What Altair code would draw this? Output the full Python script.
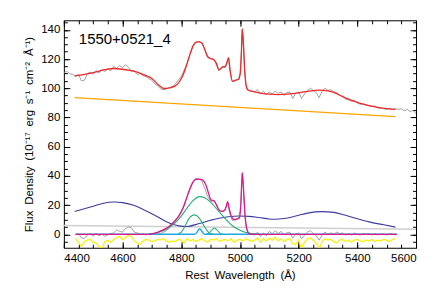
import altair as alt
import pandas as pd

# ---------------- data ----------------
# observed spectrum (upper, grey)
obs_wl = [4400, 4410, 4420, 4430, 4440, 4450, 4460, 4470, 4480, 4490, 4500, 4510, 4520, 4530,
          4540, 4550, 4560, 4570, 4580, 4590, 4600, 4610, 4620, 4630, 4640, 4650, 4660, 4670,
          4680, 4690, 4700, 4710, 4720, 4730, 4740, 4750, 4760, 4770, 4780, 4790, 4800, 4810,
          4820, 4830, 4840, 4850, 4860, 4870, 4880, 4890, 4900, 4910, 4920, 4929, 4940, 4950,
          4956, 4961, 4966, 4974, 4985, 4995, 5001, 5005, 5008, 5012, 5016, 5021, 5030, 5040,
          5050, 5060, 5070, 5080, 5090, 5100, 5110, 5120, 5130, 5140, 5150, 5160, 5170, 5180,
          5190, 5200, 5210, 5220, 5230, 5240, 5250, 5260, 5270, 5280, 5290, 5300, 5310, 5320,
          5330, 5340, 5350, 5360, 5370, 5380, 5390, 5400, 5410, 5420, 5430, 5440, 5450, 5460,
          5470, 5480, 5490, 5500, 5510, 5520, 5530, 5540, 5550, 5560, 5570, 5580, 5590, 5600]
obs_fl = [110.5, 111.5, 110.0, 109.5, 108.0, 109.5, 105.0, 105.5, 110.0, 111.0, 109.5, 112.0, 110.5, 112.5,
          111.5, 113.0, 112.0, 115.0, 113.5, 115.5, 114.0, 116.0, 114.5, 111.5, 112.0, 109.5, 110.0, 108.5,
          108.0, 106.5, 105.5, 103.0, 101.5, 99.5, 99.0, 99.5, 100.5, 101.0, 103.0, 105.5, 108.0, 112.5,
          117.0, 123.0, 128.5, 131.5, 132.0, 131.0, 126.5, 122.0, 120.5, 119.5, 117.5, 112.0, 114.5, 114.0,
          117.5, 120.5, 112.5, 104.5, 105.0, 106.5, 110.5, 125.0, 140.5, 129.0, 112.0, 101.5, 98.5, 98.0,
          97.5, 99.0, 96.0, 98.0, 95.5, 97.5, 96.0, 98.0, 96.5, 97.5, 95.0, 97.0, 97.5, 93.0,
          96.5, 97.5, 93.0, 96.0, 98.5, 100.0, 98.5, 97.0, 93.5, 98.0, 100.0, 98.5, 99.0, 97.5,
          97.0, 95.0, 94.5, 92.5, 92.0, 91.0, 91.5, 90.0, 89.0, 89.5, 88.5, 88.0, 87.5, 88.0,
          86.5, 86.5, 86.0, 85.5, 86.5, 85.5, 86.0, 85.5, 86.0, 84.5, 85.5, 84.0, 85.0, 82.5]

# total model (red)
red_wl = [4437, 4470, 4500, 4540, 4570, 4600, 4630, 4650, 4675, 4700, 4725, 4742, 4760, 4780,
          4800, 4810, 4820, 4830, 4840, 4850, 4862, 4872, 4880, 4890, 4900, 4910, 4918, 4929,
          4940, 4950, 4956, 4961, 4966, 4974, 4985, 4995, 5001, 5005, 5008, 5012, 5016, 5021,
          5027, 5040, 5070, 5100, 5130, 5160, 5200, 5240, 5270, 5300, 5330, 5350, 5380, 5400,
          5430, 5460, 5500, 5530]
red_fl = [108.5, 109.5, 110.7, 112.7, 113.5, 113.0, 112.0, 111.0, 109.0, 106.7, 101.8, 99.8, 100.3, 101.6,
          106.5, 111.0, 117.0, 123.5, 129.0, 131.5, 131.7, 130.5, 126.5, 121.5, 120.3, 119.8, 117.5, 112.5,
          114.5, 115.0, 118.0, 121.0, 113.0, 104.8, 105.5, 106.0, 110.0, 125.0, 140.8, 130.0, 113.0, 102.0,
          98.8, 98.0, 96.7, 95.9, 95.6, 95.9, 96.8, 98.2, 98.7, 98.2, 96.3, 94.2, 91.8, 90.3,
          88.6, 87.3, 86.1, 85.5]

# power-law continuum (orange)
pl_wl = [4437, 5530]
pl_fl = [93.5, 80.5]

# host / constant component (light grey)
host_wl = [4400, 5600]
host_fl = [6.0, 3.4]

# Fe II template (navy)
fe_wl = [4437, 4470, 4500, 4535, 4570, 4600, 4635, 4670, 4703, 4748, 4793, 4820, 4861, 4900,
         4929, 4960, 4997, 5030, 5065, 5100, 5120, 5150, 5190, 5230, 5280, 5320, 5360, 5394,
         5440, 5490, 5530]
fe_fl = [15.6, 17.5, 19.2, 21.3, 22.1, 21.7, 20.0, 17.0, 13.8, 8.8, 5.8, 5.4, 7.4, 9.6,
         11.0, 12.0, 12.5, 12.3, 11.5, 10.5, 10.3, 10.8, 12.5, 14.5, 15.5, 15.0, 13.0, 11.0,
         8.5, 6.5, 4.9]

# continuum-subtracted spectrum (lower, grey)
res_wl = [4440, 4450, 4460, 4470, 4480, 4490, 4500, 4510, 4520, 4530, 4540, 4550, 4560, 4570,
          4580, 4590, 4600, 4610, 4620, 4630, 4640, 4650, 4660, 4670, 4680, 4690, 4700, 4710,
          4720, 4730, 4740, 4750, 4760, 4770, 4780, 4790, 4800, 4810, 4820, 4830, 4840, 4850,
          4860, 4870, 4880, 4890, 4900, 4910, 4920, 4930, 4940, 4950, 4958, 4966, 4974, 4985,
          4995, 5001, 5005, 5008, 5012, 5016, 5021, 5030, 5040, 5050, 5060, 5070, 5080, 5090,
          5100, 5110, 5120, 5130, 5140, 5150, 5160, 5170, 5180, 5190, 5200, 5210, 5220, 5230,
          5240, 5250, 5260, 5270, 5280, 5290, 5300, 5310, 5320, 5330, 5340, 5350, 5360, 5370,
          5380, 5390, 5400, 5410, 5420, 5430, 5440, 5450, 5460, 5470, 5480, 5490, 5500, 5510,
          5520, 5530]
res_fl = [-0.3, 0.5, -2.5, -2.8, -0.5, 0.3, -1.2, 0.5, -1.0, 0.2, -1.5, -0.3, 0.5, 1.0,
          3.0, 2.0, 1.5, 4.0, 5.0, 4.5, 1.5, 1.0, 0.0, 0.5, -0.5, 0.3, -0.2, 0.5,
          1.0, 0.5, 1.5, 2.5, 4.5, 6.5, 9.0, 12.5, 16.0, 19.5, 25.5, 31.0, 36.0, 38.0,
          38.0, 36.5, 31.5, 26.0, 22.5, 23.0, 20.5, 16.0, 15.5, 17.0, 21.5, 14.0, 9.5, 10.0,
          11.0, 16.0, 30.0, 42.0, 31.0, 14.0, 5.0, 1.0, 0.5, -0.5, 1.5, -1.5, 1.0, -1.0,
          2.0, 0.5, 2.5, 0.5, 2.0, -0.5, 1.0, 1.5, -2.5, 0.0, 1.0, -3.0, -0.5, 1.5,
          2.5, 0.5, -1.0, -4.0, -0.5, 1.5, 0.0, 1.0, 0.0, 1.5, 0.5, 1.0, -0.5, 0.5,
          -0.5, 1.0, 0.0, -0.5, 0.5, 0.0, 0.5, -0.5, 0.5, -0.5, 0.5, 0.0, -0.5, 0.5,
          0.0, -0.5]

# broad H-beta (green)
hbb_wl = [4690, 4720, 4750, 4780, 4800, 4820, 4840, 4862, 4880, 4900, 4920, 4940, 4960, 4980,
          5000, 5020, 5050, 5070]
hbb_fl = [0.3, 1.2, 3.5, 8.0, 12.5, 18.0, 23.0, 25.8, 25.0, 22.0, 17.5, 13.0, 8.5, 5.0,
          2.8, 1.3, 0.3, 0.0]
# blue-shifted H-beta component (green)
hbw_wl = [4790, 4800, 4810, 4820, 4830, 4845, 4860, 4870, 4880, 4890, 4900, 4910]
hbw_fl = [0.3, 1.5, 4.5, 8.5, 11.8, 13.3, 11.5, 8.5, 5.0, 2.0, 0.5, 0.0]
# small green line
hbs_wl = [4885, 4895, 4905, 4913, 4921, 4931, 4941]
hbs_fl = [0.0, 1.0, 3.2, 4.2, 3.2, 1.0, 0.0]

# narrow H-beta (cyan)
hbn_wl = [4440, 4845, 4852, 4858, 4863, 4868, 4874, 4880, 5535]
hbn_fl = [0.0, 0.0, 1.0, 2.8, 3.6, 2.8, 1.0, 0.0, 0.0]

# total line model (magenta)
mag_wl = [4440, 4690, 4705, 4725, 4742, 4759, 4776, 4793, 4805, 4816, 4827, 4838, 4850, 4862,
          4872, 4884, 4893, 4901, 4912, 4920, 4929, 4940, 4948, 4953, 4958, 4963, 4969, 4975,
          4982, 4990, 4998, 5003, 5008, 5013, 5018, 5024, 5030, 5040, 5535]
mag_fl = [0.0, 0.0, 0.4, 1.9, 3.4, 5.5, 8.8, 12.8, 17.5, 23.6, 30.0, 35.0, 37.7, 37.8,
          37.3, 33.8, 28.0, 23.6, 22.9, 20.0, 16.7, 15.8, 16.5, 19.0, 22.4, 18.0, 13.3, 10.8,
          10.0, 10.5, 11.2, 20.0, 42.2, 28.0, 12.0, 3.0, 0.5, 0.0, 0.0]

# residual / error (yellow)
yel_wl = list(range(4440, 5540, 10))
yel_fl = [-3.0, -5.5, -8.5, -5.0, -4.0, -3.5, -5.5, -6.0, -8.5, -9.5, -5.0, -4.0, -5.5, -3.5,
          -2.0, -1.5, -3.5, -2.0, -0.8, -1.5, -4.5, -6.0, -7.0, -4.5, -3.5, -4.0, -5.0, -4.5,
          -3.5, -4.0, -3.0, -4.5, -5.5, -4.5, -5.0, -3.5, -4.0, -6.0, -3.0, -4.5, -3.5, -5.0,
          -4.0, -3.0, -4.5, -5.5, -3.5, -4.0, -3.0, -5.0, -4.0, -3.5, -4.5, -3.0, -5.5, -4.0,
          -3.5, -4.5, -3.0, -4.0, -5.0, -4.0, -2.5, -5.5, -3.0, -4.5, -2.5, -4.0, -2.0, -4.5,
          -3.0, -5.0, -3.5, -3.0, -6.5, -7.0, -4.0, -9.5, -5.5, -3.0, -2.5, -4.0, -6.0, -9.5,
          -5.0, -3.0, -4.0, -3.5, -5.0, -6.0, -4.0, -3.5, -5.0, -4.0, -5.5, -4.0, -3.5, -4.5,
          -5.0, -4.0, -4.5, -3.5, -5.0, -4.0, -4.5, -3.5, -4.0, -5.0, -3.5, -3.0]

label_text = "1550+0521_4"
x_title = "Rest\u2002Wavelength\u2002(Å)"
y_title = "Flux\u2002Density\u2002(10\u207b\u00b9\u2077\u2002erg\u2002s\u207b\u00b9\u2002cm\u207b\u00b2\u2002Å\u207b\u00b9)"
x_major = [4400, 4600, 4800, 5000, 5200, 5400, 5600]
x_minor = list(range(4400, 5601, 50))
y_major = [0, 20, 40, 60, 80, 100, 120, 140]
y_minor = list(range(-5, 146, 5))

# ---------------- chart ----------------
FONT = "Liberation Sans"
xs = alt.Scale(domain=[4400, 5600], nice=False, zero=False)
ys = alt.Scale(domain=[-9.2, 146.5], nice=False, zero=False)


def line(wl, fl, color, width, interp="linear"):
    df = pd.DataFrame({"wl": wl, "flux": fl})
    return alt.Chart(df).mark_line(color=color, strokeWidth=width, interpolate=interp, clip=True).encode(
        x=alt.X("wl:Q", scale=xs, axis=None),
        y=alt.Y("flux:Q", scale=ys, axis=None),
    )


dummy = pd.DataFrame({"wl": [5000], "flux": [50]})


def axis_layer(chan, orient, values, size, labels=False, title=None, lpad=4, tpad=4, tsize=11.5):
    kw = dict(orient=orient, values=values, tickSize=size, offset=-size, domain=False, grid=False,
              labels=labels, tickColor="black", tickWidth=1, labelFont=FONT, labelFontSize=11.5,
              labelColor="black", labelPadding=lpad, titleFont=FONT, titleFontSize=tsize,
              titleColor="black", titleFontWeight="normal", titlePadding=tpad, title=title,
              format="d", titleLimit=400)
    ax = alt.Axis(**kw)
    if chan == "x":
        enc = dict(x=alt.X("wl:Q", scale=xs, axis=ax), y=alt.Y("flux:Q", scale=ys, axis=None))
    else:
        enc = dict(x=alt.X("wl:Q", scale=xs, axis=None), y=alt.Y("flux:Q", scale=ys, axis=ax))
    return alt.Chart(dummy).mark_point(opacity=0).encode(**enc)


axes = [
    axis_layer("x", "bottom", x_major, 6, labels=True, title=x_title, lpad=5, tpad=5),
    axis_layer("x", "bottom", x_minor, 3.5),
    axis_layer("x", "top", x_major, 6),
    axis_layer("x", "top", x_minor, 3.5),
    axis_layer("y", "left", y_major, 6, labels=True, title=y_title, lpad=4, tpad=6, tsize=11.5),
    axis_layer("y", "left", y_minor, 3.5),
    axis_layer("y", "right", y_major, 6),
    axis_layer("y", "right", y_minor, 3.5),
]

label = alt.Chart(pd.DataFrame({"t": [label_text]})).mark_text(
    align="left", baseline="alphabetic", font=FONT, fontSize=15, color="black"
).encode(text="t:N", x=alt.value(15), y=alt.value(23.5))

layers = [
    line(obs_wl, obs_fl, "#8a8a8a", 0.8),
    line(red_wl, red_fl, "#ee2a2a", 1.3, "monotone"),
    line(pl_wl, pl_fl, "#ffa500", 1.3),
    line(host_wl, host_fl, "#cfcfcf", 1.5),
    line(fe_wl, fe_fl, "#3c3ca0", 1.1, "monotone"),
    line(res_wl, res_fl, "#8a8a8a", 0.8),
    line(yel_wl, yel_fl, "#f8f000", 1.2),
    line(hbb_wl, hbb_fl, "#22b070", 1.1, "monotone"),
    line(hbw_wl, hbw_fl, "#22b070", 1.1, "monotone"),
    line(hbs_wl, hbs_fl, "#22b070", 1.1, "monotone"),
    line(hbn_wl, hbn_fl, "#1ea8e0", 1.4, "monotone"),
    line(mag_wl, mag_fl, "#e0188c", 1.3, "monotone"),
    label,
] + axes

chart = alt.layer(*layers).resolve_axis(x="independent", y="independent").properties(
    width=353, height=228,
    autosize=alt.AutoSizeParams(type="none"),
    padding={"left": 56, "top": 12, "right": 12, "bottom": 34},
).configure_view(stroke="black", strokeWidth=1)

chart.save("out.html", embed_options={"renderer": "svg", "actions": False})
